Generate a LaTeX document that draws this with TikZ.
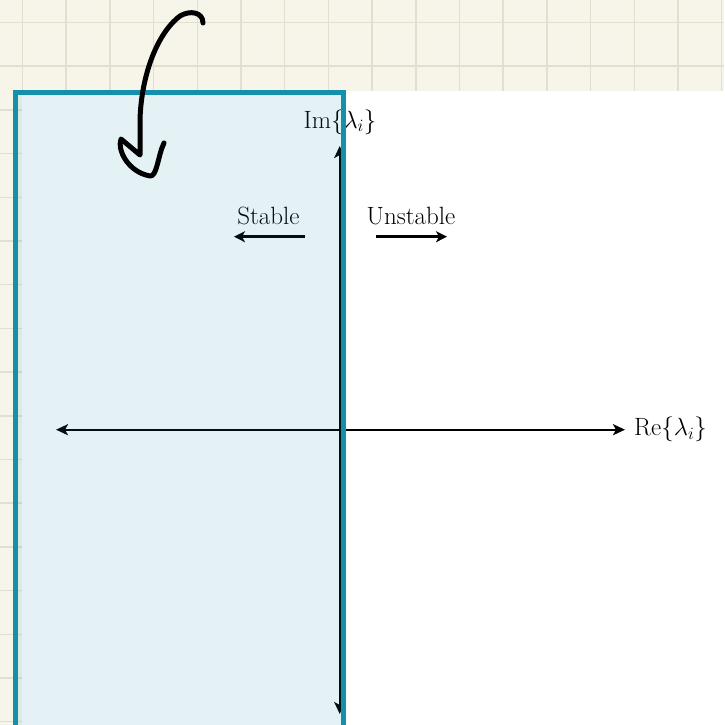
\documentclass[tikz,border=0pt]{standalone}
\usetikzlibrary{arrows.meta}
\definecolor{cream}{RGB}{247,245,233}
\definecolor{gridc}{RGB}{226,223,209}
\definecolor{tealb}{RGB}{19,145,172}
\begin{document}
\begin{tikzpicture}[x=1pt,y=-1pt,
  axis/.style={line width=2.4pt,-{Stealth[length=12pt,width=11pt,inset=3pt]}},
  dirarrow/.style={line width=2.6pt,-{Stealth[length=11pt,width=11pt,inset=3pt]}},
  lbl/.style={font=\fontsize{25}{30}\selectfont,inner sep=0pt},
  zone/.style={draw=tealb,line width=5pt,fill=tealb,fill opacity=0.11},
  pen/.style={line width=5pt,line cap=round,line join=round}]
\useasboundingbox (0,0) rectangle (724,725);
% paper
\fill[cream] (0,0) rectangle (724,725);
\foreach \k in {0,...,16}{
  \draw[gridc,line width=1.5pt] ({22.5+43.7*\k},0) -- ({22.5+43.7*\k},725);
  \draw[gridc,line width=1.5pt] (0,{22.5+43.7*\k}) -- (724,{22.5+43.7*\k});
}
\fill[white] (21.7,90.7) rectangle (724,725);
% axes
\coordinate (o) at (339.7,429.7);
\coordinate (reL) at (56,429.7);
\coordinate (reR) at (625,429.7);
\coordinate (imT) at (339.7,146);
\coordinate (imB) at (339.7,714);
\draw[axis] (o) -- (reR);
\draw[axis] (o) -- (reL);
\draw[axis] (o) -- (imT);
\draw[axis] (o) -- (imB);
\node[lbl,anchor=west] (re) at (634,429.7) {Re$\{\lambda_i\}$};
\node[lbl] (im) at (340,122) {Im$\{\lambda_i\}$};
% stable / unstable
\node[lbl] (st) at (268.5,216) {Stable};
\node[lbl] (un) at (411,216) {Unstable};
\coordinate (stA) at (305,236.7);
\coordinate (stB) at (234,236.7);
\coordinate (unA) at (376,236.7);
\coordinate (unB) at (447,236.7);
\draw[dirarrow] (stA) -- (stB);
\draw[dirarrow] (unA) -- (unB);
% highlighted zone
\draw[zone] (15,92) rectangle (343.5,727);
% hand-drawn arrow
\coordinate (h0) at (203,23);
\coordinate (h1) at (140,155);
\draw[pen] (h0) .. controls (203,12) and (190,10) .. (180,16)
  .. controls (155,35) and (141,80) .. (140,120) -- (h1)
  -- (121,139)
  .. controls (117,150) and (128,172) .. (150,176)
  .. controls (157,177) and (158,155) .. (164,143);
\end{tikzpicture}
\end{document}
